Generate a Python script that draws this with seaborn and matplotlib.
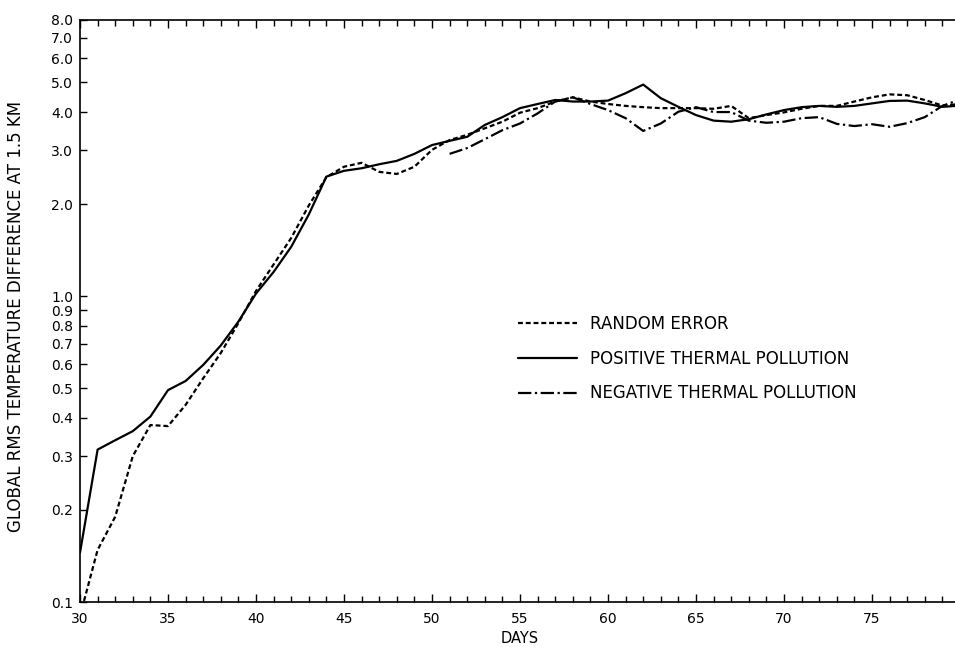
"""RMS temperature difference vs. days for three perturbation experiments"""

import matplotlib
matplotlib.use("Agg")
import matplotlib.pyplot as plt
from matplotlib.ticker import FixedLocator, FormatStrFormatter, MultipleLocator, NullLocator
import seaborn as sns
import numpy as np
import pandas as pd

# Data (days, global RMS temperature difference)
days_full = list(range(30, 81))
random_error = [0.09, 0.148, 0.19, 0.30, 0.379, 0.376, 0.441, 0.539, 0.652, 0.817,
                1.04, 1.27, 1.55, 1.98, 2.45, 2.65, 2.73, 2.55, 2.51, 2.65,
                3.01, 3.24, 3.37, 3.54, 3.72, 3.98, 4.12, 4.33, 4.47, 4.33,
                4.25, 4.19, 4.15, 4.12, 4.12, 4.12, 4.10, 4.19, 3.82, 3.91,
                3.99, 4.10, 4.19, 4.19, 4.33, 4.47, 4.57, 4.54, 4.38, 4.20, 4.25]
positive_pollution = [0.145, 0.315, 0.338, 0.362, 0.404, 0.493, 0.528, 0.596, 0.69, 0.826,
                      1.02, 1.20, 1.45, 1.85, 2.46, 2.57, 2.62, 2.70, 2.77, 2.92,
                      3.12, 3.22, 3.32, 3.63, 3.85, 4.12, 4.25, 4.38, 4.33, 4.33,
                      4.36, 4.61, 4.92, 4.44, 4.16, 3.91, 3.75, 3.72, 3.79, 3.93,
                      4.06, 4.15, 4.19, 4.16, 4.19, 4.27, 4.35, 4.36, 4.27, 4.16, 4.20]
days_negative = list(range(51, 81))
negative_pollution = [2.92, 3.05, 3.26, 3.49, 3.67, 3.96, 4.33, 4.47, 4.25, 4.06,
                      3.82, 3.47, 3.67, 4.01, 4.15, 4.00, 4.00, 3.75, 3.69, 3.72,
                      3.82, 3.85, 3.66, 3.60, 3.65, 3.58, 3.68, 3.85, 4.19, 4.40]

series_names = ["RANDOM ERROR", "POSITIVE THERMAL POLLUTION", "NEGATIVE THERMAL POLLUTION"]
y_ticks = [0.1, 0.2, 0.3, 0.4, 0.5, 0.6, 0.7, 0.8, 0.9, 1.0,
           2.0, 3.0, 4.0, 5.0, 6.0, 7.0, 8.0]
x_ticks = [30, 35, 40, 45, 50, 55, 60, 65, 70, 75]

df = pd.concat([
    pd.DataFrame({"day": days_full, "value": random_error, "series": series_names[0]}),
    pd.DataFrame({"day": days_full, "value": positive_pollution, "series": series_names[1]}),
    pd.DataFrame({"day": days_negative, "value": negative_pollution, "series": series_names[2]}),
], ignore_index=True)

sns.set_style("ticks")
plt.rcParams["font.family"] = ["DejaVu Sans"]
plt.rcParams["text.color"] = "black"
plt.rcParams["axes.labelcolor"] = "black"
plt.rcParams["xtick.color"] = "black"
plt.rcParams["ytick.color"] = "black"

fig = plt.figure(figsize=(9.55, 6.47), dpi=100)
# axes extends slightly past the right edge, like the cropped original
ax = fig.add_axes([80 / 955, 45 / 647, 880 / 955, 582 / 647])

line_styles = {
    series_names[0]: (2.2, 1.3),
    series_names[1]: "",
    series_names[2]: (6.0, 1.6, 1.0, 1.6),
}
sns.lineplot(data=df, x="day", y="value", style="series", style_order=series_names,
             dashes=line_styles, color="black", linewidth=1.6, estimator=None,
             sort=True, ax=ax)

ax.set_yscale("log")
ax.set_ylim(0.1, 8.0)
ax.set_xlim(30, 80)

ax.yaxis.set_major_locator(FixedLocator(y_ticks))
ax.yaxis.set_major_formatter(FormatStrFormatter("%.1f"))
ax.yaxis.set_minor_locator(NullLocator())
ax.set_xticks(x_ticks)
ax.xaxis.set_minor_locator(MultipleLocator(1))

ax.tick_params(axis="x", which="both", direction="in", top=True, labeltop=False,
               labelsize=10, pad=7, width=1.0)
ax.tick_params(axis="x", which="major", length=6)
ax.tick_params(axis="x", which="minor", length=4)
ax.tick_params(axis="y", which="major", direction="in", length=5, width=1.0,
               labelsize=10, pad=5, right=False)

for side in ["left", "bottom", "top"]:
    ax.spines[side].set_linewidth(1.2)
    ax.spines[side].set_color("black")
ax.spines["right"].set_visible(False)

ax.set_xlabel("DAYS", fontsize=10.5)
ax.set_ylabel("GLOBAL RMS TEMPERATURE DIFFERENCE AT 1.5 KM", fontsize=12)
ax.xaxis.set_label_coords(0.5, -0.05)
ax.yaxis.set_label_coords(-0.0625, 0.491)

sns.move_legend(ax, "upper left", bbox_to_anchor=(0.498, 0.493), title=None,
                frameon=False, fontsize=12, handlelength=3.55, handletextpad=0.78,
                labelspacing=1.0, borderpad=0, borderaxespad=0)

fig.savefig("out.png", dpi=100)
